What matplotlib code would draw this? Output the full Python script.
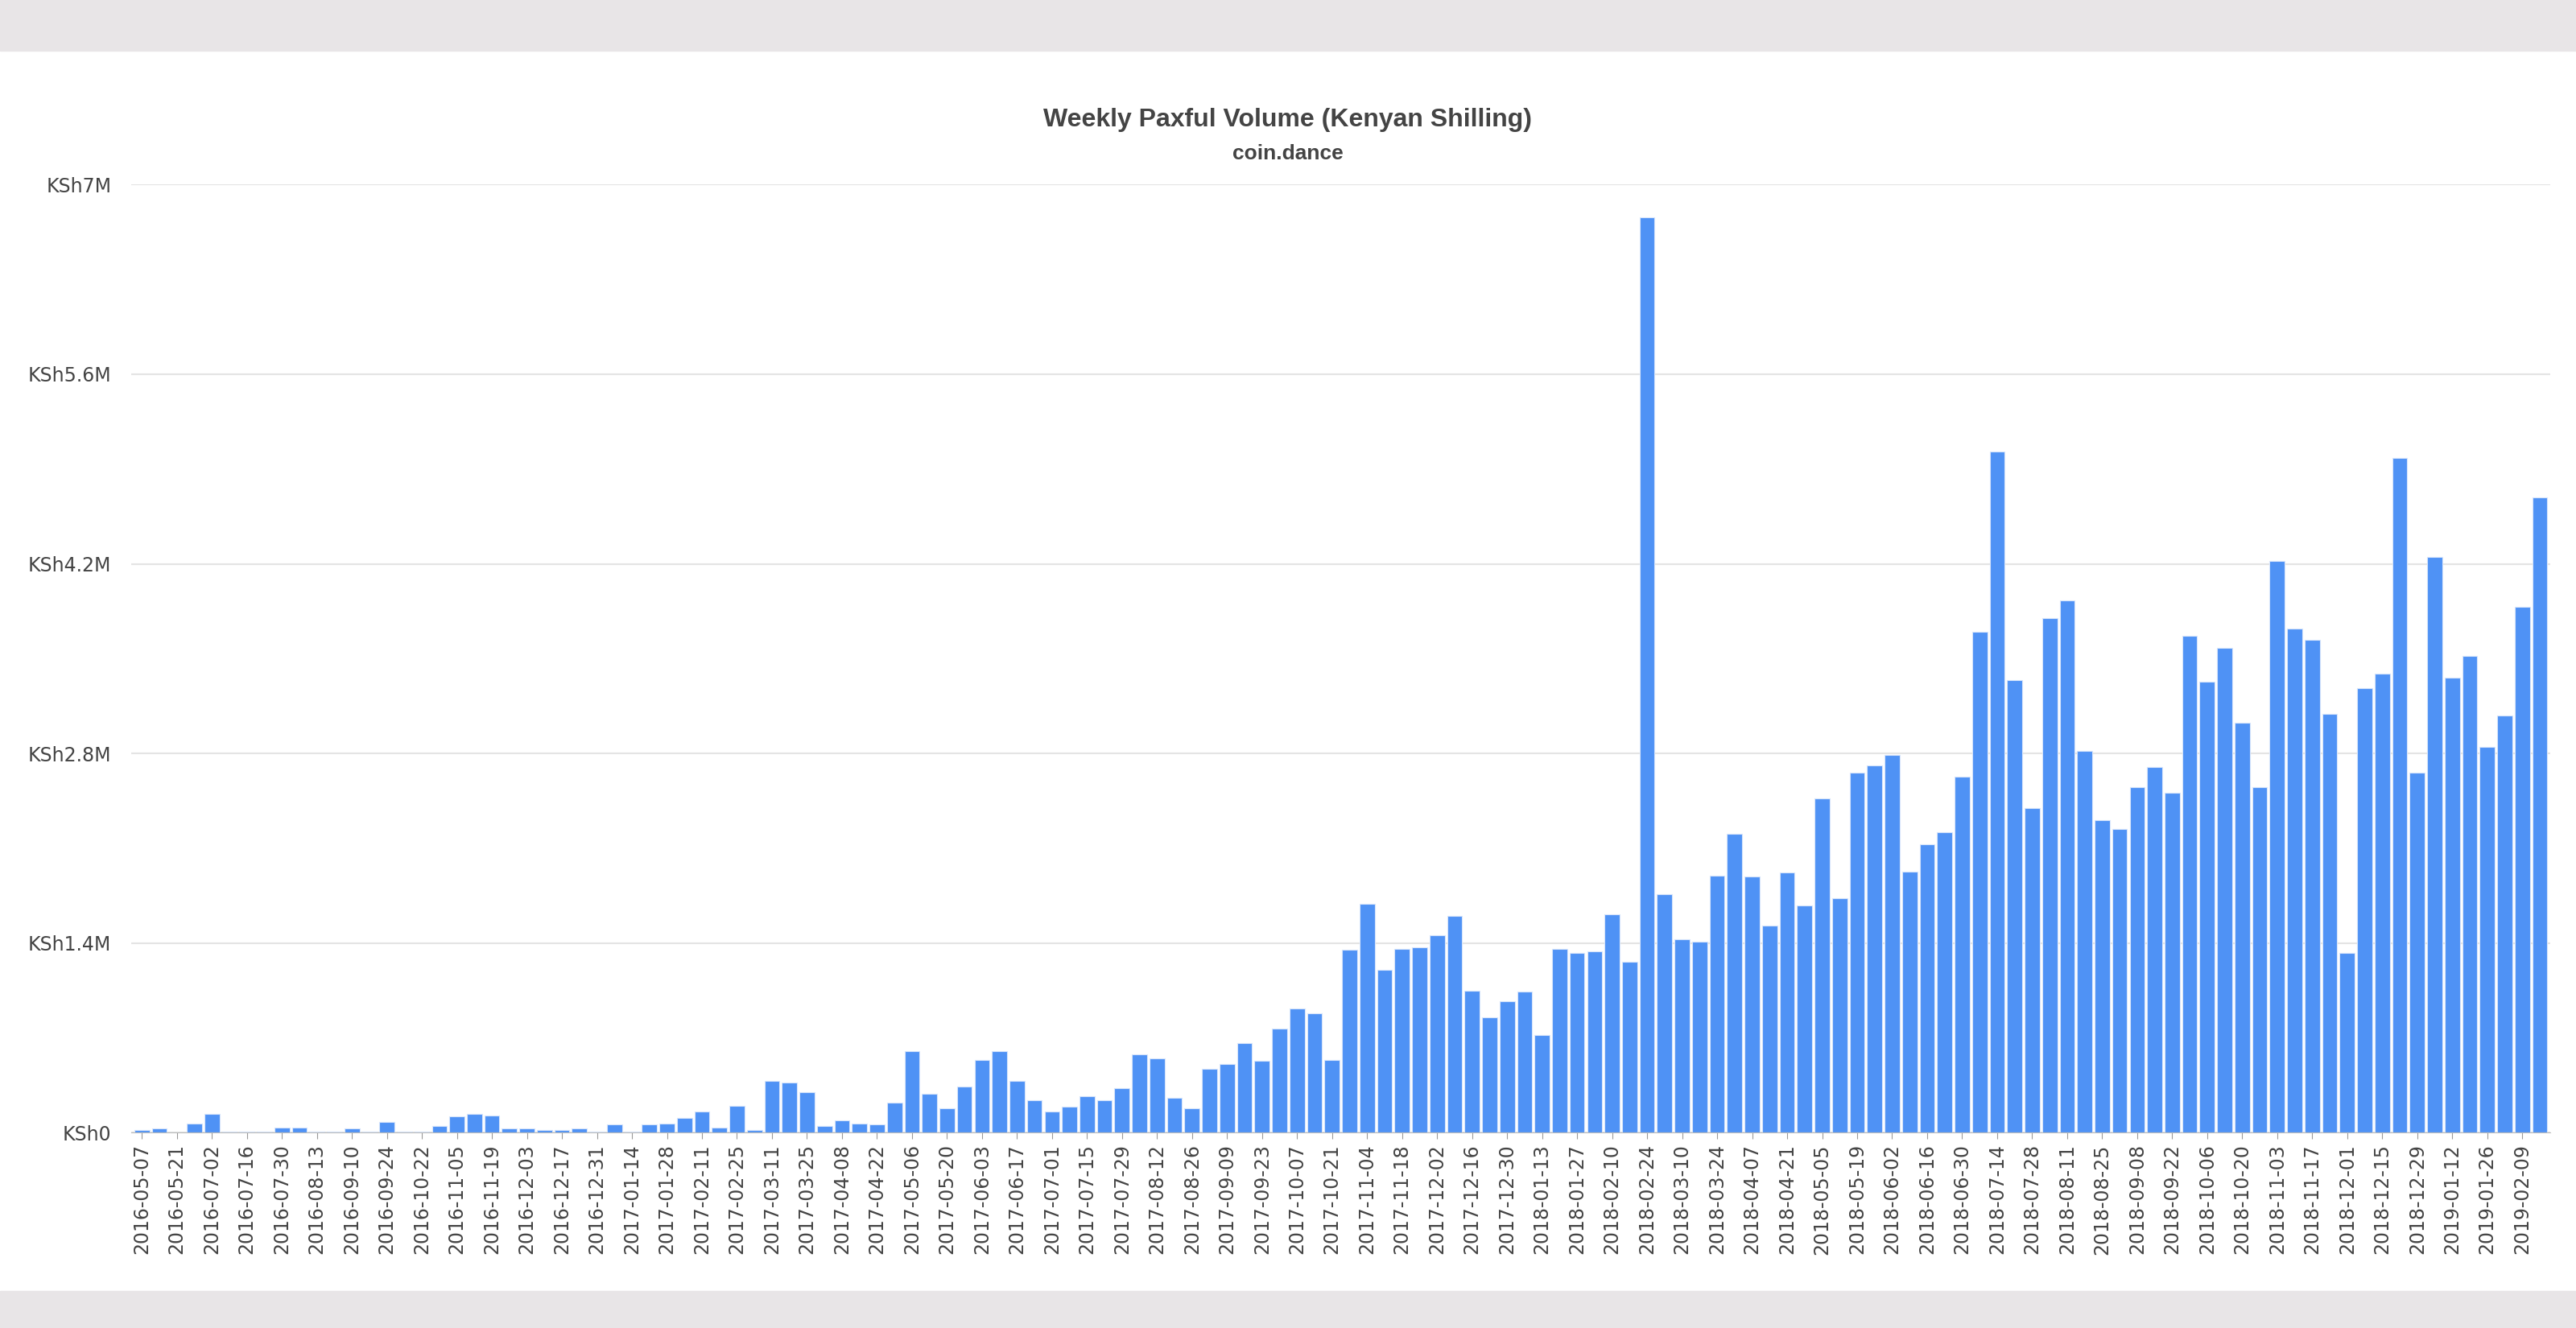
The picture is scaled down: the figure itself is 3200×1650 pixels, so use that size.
import matplotlib.pyplot as plt
import matplotlib.patches as mpatches
import numpy as np

# Week labels shown on the axis (every other bar is labelled)
tick_labels = [
    "2016-05-07", "2016-05-21", "2016-07-02", "2016-07-16", "2016-07-30", "2016-08-13",
    "2016-09-10", "2016-09-24", "2016-10-22", "2016-11-05", "2016-11-19", "2016-12-03",
    "2016-12-17", "2016-12-31", "2017-01-14", "2017-01-28", "2017-02-11", "2017-02-25",
    "2017-03-11", "2017-03-25", "2017-04-08", "2017-04-22", "2017-05-06", "2017-05-20",
    "2017-06-03", "2017-06-17", "2017-07-01", "2017-07-15", "2017-07-29", "2017-08-12",
    "2017-08-26", "2017-09-09", "2017-09-23", "2017-10-07", "2017-10-21", "2017-11-04",
    "2017-11-18", "2017-12-02", "2017-12-16", "2017-12-30", "2018-01-13", "2018-01-27",
    "2018-02-10", "2018-02-24", "2018-03-10", "2018-03-24", "2018-04-07", "2018-04-21",
    "2018-05-05", "2018-05-19", "2018-06-02", "2018-06-16", "2018-06-30", "2018-07-14",
    "2018-07-28", "2018-08-11", "2018-08-25", "2018-09-08", "2018-09-22", "2018-10-06",
    "2018-10-20", "2018-11-03", "2018-11-17", "2018-12-01", "2018-12-15", "2018-12-29",
    "2019-01-12", "2019-01-26", "2019-02-09",
]

# Weekly volume in millions of KSh
volume_m = [
    0.02, 0.03, 0.00, 0.07, 0.14, 0.01, 0.01, 0.01, 0.04, 0.04,
    0.01, 0.01, 0.03, 0.01, 0.08, 0.01, 0.01, 0.05, 0.12, 0.14,
    0.13, 0.03, 0.03, 0.02, 0.02, 0.03, 0.01, 0.06, 0.01, 0.06,
    0.07, 0.11, 0.16, 0.04, 0.20, 0.02, 0.38, 0.37, 0.30, 0.05,
    0.09, 0.07, 0.06, 0.22, 0.60, 0.29, 0.18, 0.34, 0.54, 0.60,
    0.38, 0.24, 0.16, 0.19, 0.27, 0.24, 0.33, 0.58, 0.55, 0.26,
    0.18, 0.47, 0.51, 0.66, 0.53, 0.77, 0.92, 0.88, 0.54, 1.35,
    1.69, 1.20, 1.36, 1.37, 1.46, 1.60, 1.05, 0.85, 0.97, 1.04,
    0.72, 1.36, 1.33, 1.34, 1.61, 1.26, 6.76, 1.76, 1.43, 1.41,
    1.90, 2.21, 1.89, 1.53, 1.92, 1.68, 2.47, 1.73, 2.66, 2.71,
    2.79, 1.93, 2.13, 2.22, 2.63, 3.70, 5.03, 3.34, 2.40, 3.80,
    3.93, 2.82, 2.31, 2.24, 2.55, 2.70, 2.51, 3.67, 3.33, 3.58,
    3.03, 2.55, 4.22, 3.72, 3.64, 3.09, 1.33, 3.28, 3.39, 4.98,
    2.66, 4.25, 3.36, 3.52, 2.85, 3.08, 3.88, 4.69,
]

y_ticks_m = [0, 1.4, 2.8, 4.2, 5.6, 7]
y_tick_labels = ["KSh0", "KSh1.4M", "KSh2.8M", "KSh4.2M", "KSh5.6M", "KSh7M"]

fig = plt.figure(figsize=(32, 16.5), dpi=100, facecolor="white")
# grey bands at top and bottom
fig.patches.append(mpatches.Rectangle((0, 0.962), 1, 0.038, transform=fig.transFigure,
                                      color="#e8e5e7", zorder=0))
fig.patches.append(mpatches.Rectangle((0, 0), 1, 0.028, transform=fig.transFigure,
                                      color="#e8e5e7", zorder=0))

ax = fig.add_axes([0.051, 0.147, 0.939, 0.714])
x = np.arange(len(volume_m))
ax.bar(x, np.array(volume_m) * 1e6, width=0.86, color="#4f92f5", edgecolor="#d6e4fb",
       linewidth=0.8, zorder=2)

ax.set_xlim(-0.6, len(volume_m) - 0.4)
ax.set_ylim(0, 7e6)
ax.set_yticks(np.array(y_ticks_m) * 1e6)
ax.set_yticklabels(y_tick_labels, fontsize=17, color="#444444")
ax.set_xticks(x[::2])
ax.set_xticklabels(tick_labels, rotation=90, fontsize=17, color="#444444")
ax.tick_params(axis="y", length=0, pad=18)
ax.tick_params(axis="x", length=6, color="#999999", pad=4)
ax.grid(axis="y", color="#e4e4e4", linewidth=1.5, zorder=0)
for s in ["top", "right", "left"]:
    ax.spines[s].set_visible(False)
ax.spines["bottom"].set_color("#bbbbbb")

fig.text(0.5, 0.91, "Weekly Paxful Volume (Kenyan Shilling)", ha="center", va="center",
         fontsize=23, fontweight="bold", color="#444444", family="Liberation Sans")
fig.text(0.5, 0.884, "coin.dance", ha="center", va="center",
         fontsize=19, fontweight="bold", color="#444444", family="Liberation Sans")

fig.savefig("out.png", dpi=100, facecolor=fig.get_facecolor())
